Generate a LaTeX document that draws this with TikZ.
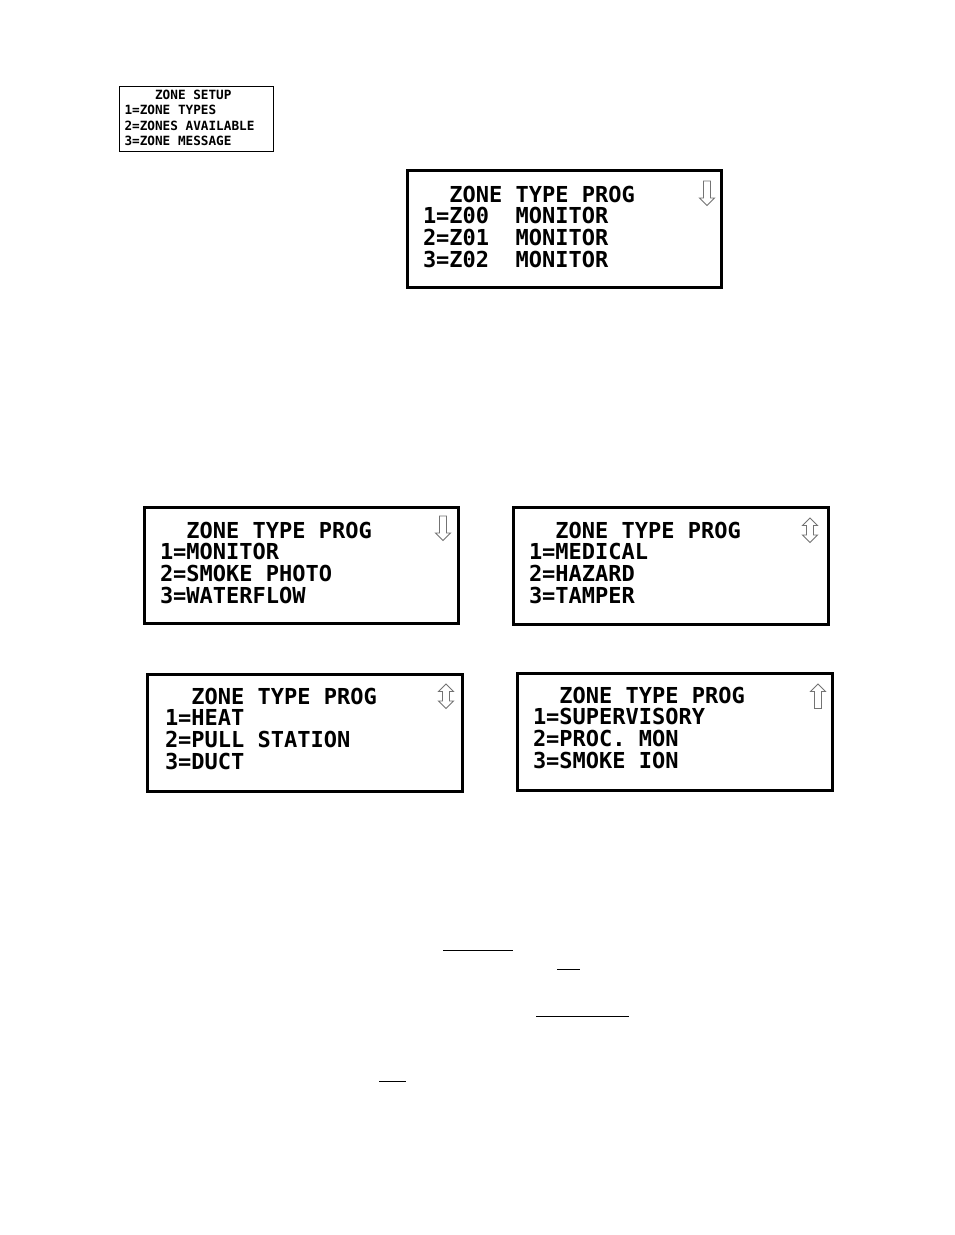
\documentclass[tikz,border=0pt]{standalone}
\usepackage{fontspec}
\newfontfamily\lcd{DejaVu Sans Mono}
\tikzset{
  x=1pt,y=-1pt,
  bigbox/.style={draw=black,line width=3pt,fill=white},
  smallbox/.style={draw=black,line width=1pt,fill=white},
  bigtext/.style={anchor=base west,inner sep=0pt,outer sep=0pt,font=\lcd\bfseries\fontsize{22}{22}\selectfont},
  smalltext/.style={anchor=base west,inner sep=0pt,outer sep=0pt,font=\lcd\bfseries\fontsize{12.7}{13}\selectfont},
  scrollarrow/.style={draw=black!55,line width=.9pt,fill=white,line join=miter},
  rule/.style={draw=black,line width=1pt}
}
% #1 name, #2 box left, #3 box top, #4 box right, #5 box bottom, #6 text x, #7 title baseline, #8 line spacing, #9 texts
\newcommand{\lcdpanel}[9]{%
  \draw[bigbox] (#2,#3) rectangle (#4,#5);
  \foreach \ti/\tx in {#9}{%
    \node[bigtext] (#1-\ti) at (#6,#7+\ti*#8) {\tx};
  }%
}
\newcommand{\downarrowicon}[2]{% top centre x, top y
  \draw[scrollarrow] (#1-3.5,#2) -- (#1+3.5,#2) -- (#1+3.5,#2+17) -- (#1+7.5,#2+17) -- (#1,#2+24.5) -- (#1-7.5,#2+17) -- (#1-3.5,#2+17) -- cycle;
}
\newcommand{\uparrowicon}[2]{%
  \draw[scrollarrow] (#1-3.5,#2+24.5) -- (#1+3.5,#2+24.5) -- (#1+3.5,#2+7.5) -- (#1+7.5,#2+7.5) -- (#1,#2) -- (#1-7.5,#2+7.5) -- (#1-3.5,#2+7.5) -- cycle;
}
\newcommand{\bothicon}[2]{%
  \draw[scrollarrow] (#1,#2) -- (#1+7.5,#2+7.5) -- (#1+3.5,#2+7.5) -- (#1+3.5,#2+17) -- (#1+7.5,#2+17) -- (#1,#2+24.5) -- (#1-7.5,#2+17) -- (#1-3.5,#2+17) -- (#1-3.5,#2+7.5) -- (#1-7.5,#2+7.5) -- cycle;
}
\begin{document}
\begin{tikzpicture}
\useasboundingbox (0,0) rectangle (954,1235);
\fill[white] (0,0) rectangle (954,1235);

% small panel
\draw[smallbox] (119.5,86.5) rectangle (273.5,151.5);
\foreach \ti/\tx in {0/~~~~ZONE SETUP,1/1=ZONE TYPES,2/2=ZONES AVAILABLE,3/3=ZONE MESSAGE}{%
  \node[smalltext] (small-\ti) at (124.5,99+\ti*15.6) {\tx};
}

\lcdpanel{a}{407.5}{170.5}{721.5}{287.5}{423}{202}{21.9}{0/~~ZONE TYPE PROG,1/1=Z00~~MONITOR,2/2=Z01~~MONITOR,3/3=Z02~~MONITOR}
\downarrowicon{707}{181}

\lcdpanel{b}{144.5}{507.5}{458.5}{623.5}{160}{538}{21.9}{0/~~ZONE TYPE PROG,1/1=MONITOR,2/2=SMOKE PHOTO,3/3=WATERFLOW}
\downarrowicon{443}{516}

\lcdpanel{c}{513.5}{507.5}{828.5}{624.5}{529}{538}{21.9}{0/~~ZONE TYPE PROG,1/1=MEDICAL,2/2=HAZARD,3/3=TAMPER}
\bothicon{810}{518}

\lcdpanel{d}{147.5}{674.5}{462.5}{791.5}{165}{704}{21.9}{0/~~ZONE TYPE PROG,1/1=HEAT,2/2=PULL STATION,3/3=DUCT}
\bothicon{446}{684}

\lcdpanel{e}{517.5}{673.5}{832.5}{790.5}{533}{703}{21.9}{0/~~ZONE TYPE PROG,1/1=SUPERVISORY,2/2=PROC. MON,3/3=SMOKE ION}
\uparrowicon{818}{684}

% underscore rules
\coordinate (r1a) at (443,950.5); \coordinate (r1b) at (513,950.5);
\coordinate (r2a) at (557,969.5); \coordinate (r2b) at (580,969.5);
\coordinate (r3a) at (536,1016.5); \coordinate (r3b) at (629,1016.5);
\coordinate (r4a) at (379,1081.5); \coordinate (r4b) at (406,1081.5);
\draw[rule] (r1a) -- (r1b);
\draw[rule] (r2a) -- (r2b);
\draw[rule] (r3a) -- (r3b);
\draw[rule] (r4a) -- (r4b);
\end{tikzpicture}
\end{document}
